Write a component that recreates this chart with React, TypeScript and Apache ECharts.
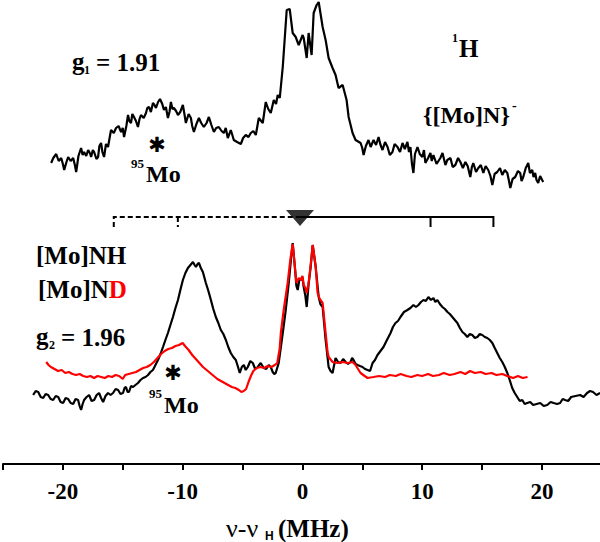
import React, { useEffect, useRef } from "react";
import * as echarts from "echarts";

const SERIF = "'Liberation Serif', 'Times New Roman', serif";
const STAR_FONT = "bold 21px 'DejaVu Sans', sans-serif";

// x-axis (MHz) tick settings
const xMin = -25;
const xMax = 24.85;
const xInterval = 5;
const labeledTicks = [-20, -10, 0, 10, 20];

// g1 = 1.91, {[Mo]N}- : [nu - nuH (MHz), intensity (a.u.)]
const topSpectrum: number[][] = [
  [-20.98, 301], [-20.8, 306], [-20.56, 310], [-20.35, 303], [-20.14, 306], [-20.0, 300], [-19.89, 294],
  [-19.7, 302], [-19.56, 307], [-19.35, 303], [-19.14, 306], [-19.0, 299], [-18.89, 292], [-18.7, 308],
  [-18.48, 316], [-18.35, 309], [-18.23, 312], [-18.05, 308], [-17.89, 314], [-17.75, 311], [-17.64, 307],
  [-17.5, 314], [-17.39, 312], [-17.2, 305], [-17.06, 307], [-16.95, 318], [-16.81, 321], [-16.7, 312],
  [-16.56, 307], [-16.4, 320], [-16.23, 317], [-16.1, 326], [-15.98, 334], [-15.75, 331], [-15.56, 336],
  [-15.35, 338], [-15.14, 332], [-15.0, 336], [-14.89, 327], [-14.7, 338], [-14.56, 349], [-14.45, 343],
  [-14.31, 341], [-14.2, 350], [-14.06, 347], [-13.9, 343], [-13.73, 337], [-13.6, 345], [-13.48, 349],
  [-13.25, 346], [-13.06, 351], [-12.95, 356], [-12.81, 357], [-12.65, 352], [-12.48, 361], [-12.35, 359],
  [-12.23, 356], [-12.05, 362], [-11.89, 365], [-11.7, 360], [-11.56, 354], [-11.4, 357], [-11.23, 346],
  [-11.1, 352], [-10.98, 362], [-10.85, 355], [-10.73, 356], [-10.55, 353], [-10.39, 349], [-10.2, 352],
  [-9.98, 359], [-9.85, 350], [-9.73, 341], [-9.5, 350], [-9.31, 346], [-9.2, 338], [-9.06, 332],
  [-8.85, 340], [-8.64, 346], [-8.45, 341], [-8.23, 337], [-8.0, 341], [-7.81, 347], [-7.6, 339],
  [-7.39, 332], [-7.2, 336], [-6.98, 337], [-6.75, 333], [-6.56, 331], [-6.4, 336], [-6.23, 326],
  [-6.1, 330], [-5.98, 334], [-5.85, 329], [-5.73, 324], [-5.45, 322], [-5.14, 320], [-4.95, 326],
  [-4.73, 329], [-4.5, 327], [-4.31, 331], [-4.1, 333], [-3.89, 329], [-3.64, 346], [-3.31, 341],
  [-3.06, 362], [-2.85, 355], [-2.64, 351], [-2.39, 364], [-2.2, 360], [-2.06, 369], [-1.89, 366],
  [-1.64, 397], [-1.31, 454], [-1.06, 455], [-0.81, 431], [-0.56, 427], [-0.31, 419], [0.02, 429],
  [0.11, 426], [0.36, 406], [0.52, 431], [0.77, 409], [0.94, 451], [1.19, 459], [1.36, 462],
  [1.69, 437], [1.94, 424], [2.19, 406], [2.52, 396], [2.77, 389], [3.02, 376], [3.36, 379],
  [3.69, 364], [3.86, 347], [4.19, 331], [4.44, 324], [4.86, 321], [5.0, 316], [5.11, 309],
  [5.3, 318], [5.52, 324], [5.7, 317], [5.94, 324], [6.15, 319], [6.36, 327], [6.5, 320],
  [6.69, 314], [6.9, 322], [7.11, 317], [7.3, 309], [7.52, 312], [7.7, 320], [7.94, 317],
  [8.15, 312], [8.36, 321], [8.55, 315], [8.77, 322], [8.9, 312], [9.02, 317], [9.15, 300],
  [9.27, 291], [9.4, 310], [9.61, 317], [9.8, 310], [10.02, 307], [10.15, 314], [10.27, 301],
  [10.5, 306], [10.69, 311], [10.8, 303], [10.94, 309], [11.2, 300], [11.52, 306], [11.7, 311],
  [11.94, 299], [12.1, 304], [12.36, 306], [12.55, 297], [12.77, 299], [13.0, 306], [13.19, 302],
  [13.4, 296], [13.61, 302], [13.8, 298], [14.02, 287], [14.15, 297], [14.27, 301], [14.5, 292],
  [14.69, 296], [14.9, 299], [15.11, 291], [15.3, 298], [15.52, 294], [15.7, 288], [15.86, 279],
  [16.05, 290], [16.27, 292], [16.5, 296], [16.69, 289], [16.9, 294], [17.11, 291], [17.25, 283],
  [17.36, 276], [17.55, 285], [17.77, 287], [18.0, 293], [18.19, 291], [18.3, 283], [18.44, 287],
  [18.65, 296], [18.86, 301], [19.0, 291], [19.19, 294], [19.3, 287], [19.44, 291], [19.55, 284],
  [19.69, 281], [19.85, 288], [20.02, 284], [20.11, 282],
];

// g2 = 1.96, [Mo]NH (black)
const nhSpectrum: number[][] = [
  [-22.48, 69], [-22.27, 73], [-22.06, 72], [-21.85, 67], [-21.64, 66], [-21.44, 70], [-21.23, 69],
  [-21.02, 65], [-20.81, 64], [-20.6, 68], [-20.39, 67], [-20.19, 62], [-19.98, 61], [-19.77, 66],
  [-19.56, 65], [-19.35, 61], [-19.14, 60], [-18.94, 65], [-18.73, 64], [-18.6, 58], [-18.48, 54],
  [-18.35, 60], [-18.23, 64], [-18.02, 67], [-17.81, 69], [-17.6, 63], [-17.39, 64], [-17.18, 69],
  [-16.98, 71], [-16.81, 66], [-16.64, 62], [-16.44, 68], [-16.23, 71], [-16.02, 69], [-15.81, 71],
  [-15.6, 75], [-15.39, 74], [-15.19, 70], [-14.98, 71], [-14.85, 76], [-14.73, 77], [-14.6, 72],
  [-14.48, 72], [-14.31, 78], [-14.14, 77], [-13.94, 79], [-13.73, 81], [-13.52, 84], [-13.31, 86],
  [-13.1, 87], [-12.89, 89], [-12.69, 92], [-12.48, 94], [-12.27, 99], [-12.06, 104], [-11.85, 110],
  [-11.64, 117], [-11.44, 124], [-11.23, 131], [-11.02, 139], [-10.81, 147], [-10.6, 156], [-10.39, 164],
  [-10.19, 174], [-9.98, 184], [-9.77, 191], [-9.56, 196], [-9.35, 199], [-9.14, 202], [-9.0, 199],
  [-8.89, 197], [-8.75, 200], [-8.64, 201], [-8.48, 196], [-8.31, 192], [-8.06, 181], [-7.85, 173],
  [-7.64, 164], [-7.44, 155], [-7.23, 147], [-7.02, 141], [-6.81, 134], [-6.6, 130], [-6.39, 124],
  [-6.19, 117], [-5.98, 111], [-5.77, 107], [-5.56, 104], [-5.4, 98], [-5.23, 91], [-5.06, 97],
  [-4.89, 99], [-4.73, 94], [-4.56, 97], [-4.35, 103], [-4.14, 101], [-3.94, 95], [-3.73, 97],
  [-3.48, 101], [-3.23, 96], [-3.02, 95], [-2.81, 99], [-2.64, 97], [-2.48, 92], [-2.35, 90],
  [-2.23, 91], [-1.98, 101], [-1.64, 131], [-1.39, 154], [-1.14, 181], [-0.95, 205], [-0.81, 221],
  [-0.65, 200], [-0.5, 178], [-0.39, 174], [-0.25, 185], [-0.14, 184], [0.0, 187], [0.11, 177],
  [0.25, 168], [0.36, 157], [0.52, 180], [0.69, 197], [0.86, 219], [1.0, 207], [1.11, 197],
  [1.36, 167], [1.5, 160], [1.69, 157], [1.94, 124], [2.19, 97], [2.35, 93], [2.52, 91],
  [2.65, 99], [2.77, 106], [2.98, 102], [3.19, 101], [3.4, 105], [3.61, 102], [3.81, 100],
  [4.02, 102], [4.15, 106], [4.27, 104], [4.44, 100], [4.61, 99], [4.81, 98], [5.02, 97],
  [5.23, 95], [5.44, 94], [5.65, 93], [5.86, 101], [6.06, 104], [6.27, 109], [6.52, 113],
  [6.77, 117], [7.06, 124], [7.36, 131], [7.56, 137], [7.77, 141], [7.98, 143], [8.19, 147],
  [8.48, 152], [8.77, 154], [9.02, 156], [9.27, 159], [9.48, 157], [9.69, 159], [9.9, 162],
  [10.11, 164], [10.31, 163], [10.52, 167], [10.73, 164], [10.94, 166], [11.1, 162], [11.27, 164],
  [11.48, 160], [11.69, 157], [11.9, 155], [12.11, 152], [12.31, 150], [12.52, 147], [12.73, 144],
  [12.94, 141], [13.15, 136], [13.36, 132], [13.56, 130], [13.77, 127], [13.98, 130], [14.19, 129],
  [14.4, 126], [14.61, 127], [14.81, 130], [15.02, 129], [15.23, 127], [15.44, 126], [15.65, 124],
  [15.86, 121], [16.06, 116], [16.27, 111], [16.48, 106], [16.69, 102], [16.9, 97], [17.11, 91],
  [17.31, 84], [17.52, 76], [17.73, 71], [17.94, 67], [18.15, 63], [18.36, 64], [18.56, 60],
  [18.77, 61], [19.02, 62], [19.27, 59], [19.56, 60], [19.86, 61], [20.15, 58], [20.44, 59],
  [20.73, 62], [20.98, 61], [21.27, 60], [21.52, 61], [21.73, 65], [21.94, 64], [22.19, 63],
  [22.44, 67], [22.81, 68], [23.19, 69], [23.48, 67], [23.77, 71], [24.02, 73], [24.27, 72],
  [24.56, 69], [24.86, 71],
];

// g2 = 1.96, [Mo]ND (red)
const ndSpectrum: number[][] = [
  [-21.39, 102], [-21.2, 99], [-21.0, 97], [-20.7, 95], [-20.4, 93], [-20.1, 94], [-19.8, 91],
  [-19.5, 92], [-19.2, 90], [-18.9, 89], [-18.6, 90], [-18.3, 88], [-18.0, 87], [-17.7, 88],
  [-17.4, 86], [-17.1, 88], [-16.8, 87], [-16.5, 86], [-16.2, 88], [-15.9, 87], [-15.6, 89],
  [-15.3, 88], [-15.0, 85], [-14.8, 89], [-14.5, 90], [-14.2, 91], [-13.9, 92], [-13.6, 94],
  [-13.3, 96], [-13.0, 97], [-12.7, 99], [-12.4, 102], [-12.1, 106], [-11.8, 110], [-11.5, 113],
  [-11.2, 115], [-10.9, 116], [-10.6, 118], [-10.3, 119], [-10.0, 121], [-9.8, 118], [-9.5, 114],
  [-9.2, 109], [-8.9, 105], [-8.6, 101], [-8.3, 97], [-8.0, 94], [-7.7, 91], [-7.4, 88],
  [-7.1, 85], [-6.8, 83], [-6.5, 81], [-6.2, 79], [-5.9, 77], [-5.6, 76], [-5.3, 74],
  [-5.1, 72], [-4.9, 73], [-4.7, 75], [-4.5, 82], [-4.3, 88], [-4.1, 93], [-3.8, 96],
  [-3.5, 97], [-3.2, 96], [-2.9, 98], [-2.6, 97], [-2.3, 99], [-2.1, 101], [-1.9, 115],
  [-1.8, 131], [-1.56, 154], [-1.23, 181], [-1.0, 205], [-0.81, 220], [-0.65, 200], [-0.5, 181],
  [-0.3, 186], [-0.14, 184], [0.0, 188], [0.11, 179], [0.25, 176], [0.36, 171], [0.52, 181],
  [0.7, 200], [0.86, 219], [1.0, 207], [1.11, 197], [1.27, 171], [1.45, 165], [1.69, 161],
  [1.94, 131], [2.1, 112], [2.19, 107], [2.52, 102], [2.94, 101], [3.36, 102], [3.77, 101],
  [4.19, 102], [4.44, 99], [4.7, 94], [4.86, 91], [5.2, 88], [5.44, 86], [5.94, 87],
  [6.4, 88], [6.9, 87], [7.3, 89], [7.8, 88], [8.2, 90], [8.7, 88], [9.1, 87],
  [9.6, 89], [10.0, 88], [10.5, 90], [10.9, 88], [11.4, 89], [11.8, 91], [12.3, 89],
  [12.7, 90], [13.2, 92], [13.6, 90], [14.0, 93], [14.4, 91], [14.9, 92], [15.3, 90],
  [15.8, 91], [16.2, 89], [16.7, 90], [17.1, 88], [17.6, 86], [18.0, 88], [18.4, 86],
  [18.8, 87],
];

// coupling brackets above the g2 spectra
const bracketDashed: number[][] = [[-15.75, 237], [-15.75, 247], [-0.2, 247]];
const bracketDashedTick: number[][] = [[-10.4, 247], [-10.4, 237]];
const bracketSolid: number[][] = [[-0.2, 247], [15.95, 247], [15.95, 237]];
const bracketSolidTick: number[][] = [[10.7, 247], [10.7, 237]];
const larmorMarker: number[][] = [[-0.2, 246]];

function txt(text: string, x: number, y: number, size: number, extra: any = {}) {
  return {
    type: "text",
    x,
    y,
    silent: true,
    style: {
      text,
      font: `bold ${size}px ${SERIF}`,
      fill: "#000",
      textAlign: "left",
      align: "left",
      textVerticalAlign: "middle",
      verticalAlign: "middle",
      ...extra,
    },
  };
}

export default function App() {
  const ref = useRef<HTMLDivElement>(null);

  useEffect(() => {
    if (!ref.current) return;
    const chart = echarts.init(ref.current, null, { renderer: "svg" });

    const option: any = {
      animation: false,
      backgroundColor: "#fff",
      grid: { left: 2, right: 0, top: 0, bottom: 78, containLabel: false },
      xAxis: {
        type: "value",
        min: xMin,
        max: xMax,
        interval: xInterval,
        splitLine: { show: false },
        axisLine: { show: true, onZero: false, lineStyle: { color: "#000", width: 2 } },
        axisTick: { show: true, length: 6, lineStyle: { color: "#000", width: 2 } },
        axisLabel: {
          showMaxLabel: false,
          margin: 16,
          color: "#000",
          fontFamily: SERIF,
          fontWeight: "bold",
          fontSize: 23,
          formatter: (v: number) => (labeledTicks.indexOf(v) >= 0 ? String(v) : ""),
        },
      },
      yAxis: { type: "value", min: 0, max: 464, show: false },
      series: [
        {
          type: "line",
          data: topSpectrum,
          symbol: "none",
          lineStyle: { color: "#000", width: 2.2 },
        },
        {
          type: "line",
          data: nhSpectrum,
          symbol: "none",
          lineStyle: { color: "#000", width: 2.2 },
        },
        {
          type: "line",
          data: ndSpectrum,
          symbol: "none",
          lineStyle: { color: "#f00", width: 2.2 },
        },
        {
          type: "lines",
          coordinateSystem: "cartesian2d",
          polyline: true,
          silent: true,
          lineStyle: { color: "#000", width: 2, type: [5, 3], opacity: 1 },
          data: [{ coords: bracketDashed }, { coords: bracketDashedTick }],
        },
        {
          type: "lines",
          coordinateSystem: "cartesian2d",
          polyline: true,
          silent: true,
          lineStyle: { color: "#000", width: 2, type: "solid", opacity: 1 },
          data: [{ coords: bracketSolid }, { coords: bracketSolidTick }],
        },
        {
          type: "scatter",
          data: larmorMarker,
          symbol: "triangle",
          symbolRotate: 180,
          symbolSize: [28, 16],
          itemStyle: { color: "#000" },
          silent: true,
        },
      ],
      graphic: [
        // top spectrum labels
        txt("g", 72, 61, 25),
        txt("1", 84, 70, 12),
        txt("= 1.91", 96, 62, 25),
        txt("1", 452, 38, 12),
        txt("H", 459, 48, 25),
        txt("{[Mo]N}", 423, 115, 24),
        txt("-", 512, 105, 14),
        txt("✱", 157, 145, 21, { font: STAR_FONT, textAlign: "center", align: "center" }),
        txt("95", 131, 163, 13),
        txt("Mo", 146, 174, 24),
        // bottom spectra labels
        txt("[Mo]NH", 36, 255, 25),
        {
          type: "text",
          x: 38,
          y: 289,
          silent: true,
          style: {
            text: "{k|[Mo]N}{r|D}",
            font: `bold 25px ${SERIF}`,
            textAlign: "left",
            align: "left",
            textVerticalAlign: "middle",
            verticalAlign: "middle",
            rich: {
              k: { font: `bold 25px ${SERIF}`, fill: "#000", color: "#000" },
              r: { font: `bold 25px ${SERIF}`, fill: "#f00", color: "#f00" },
            },
          },
        },
        txt("g", 36, 336, 25),
        txt("2", 49, 345, 12),
        txt("= 1.96", 61, 337, 25),
        txt("✱", 173, 373, 21, { font: STAR_FONT, textAlign: "center", align: "center" }),
        txt("95", 149, 393, 13),
        txt("Mo", 164, 405, 24),
        // axis title
        {
          type: "text",
          x: 226,
          y: 528,
          silent: true,
          style: {
            text: "ν-ν",
            font: `normal 26px ${SERIF}`,
            fill: "#000",
            textAlign: "left",
            align: "left",
            textVerticalAlign: "middle",
            verticalAlign: "middle",
          },
        },
        {
          type: "text",
          x: 265,
          y: 536,
          silent: true,
          style: {
            text: "H",
            font: `bold 12px 'Liberation Sans', Arial, sans-serif`,
            fill: "#000",
            textAlign: "left",
            align: "left",
            textVerticalAlign: "middle",
            verticalAlign: "middle",
          },
        },
        txt("(MHz)", 278, 528, 25),
      ],
    };

    chart.setOption(option);
    return () => chart.dispose();
  }, []);

  return (
    <div
      ref={ref}
      style={{ position: "fixed", left: 0, top: 0, width: 600, height: 542, background: "#fff" }}
    />
  );
}
